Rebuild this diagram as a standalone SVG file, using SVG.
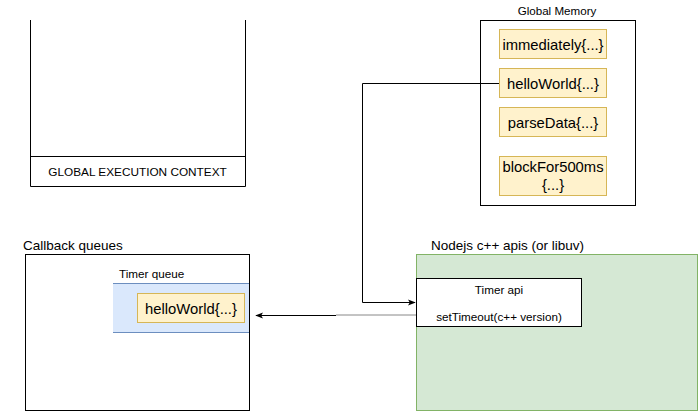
<svg xmlns="http://www.w3.org/2000/svg" width="700" height="411" viewBox="0 0 700 411">
<style>
text{font-family:"Liberation Sans",Arial,sans-serif;fill:#000}
.mem{fill:#fff2cc;stroke:#d6b656;stroke-width:1}
.mt{font-size:14.8px;text-anchor:middle}
.edge{fill:none;stroke:#000;stroke-width:1}
</style>
<defs>
<marker id="arr" viewBox="0 0 10 10" refX="9" refY="5" markerWidth="8" markerHeight="8" orient="auto" markerUnits="userSpaceOnUse">
<path d="M0,1 L10,5 L0,9 L2.5,5 Z" fill="#000"/>
</marker>
</defs>
<rect width="700" height="411" fill="#fff"/>
<g id="gec">
<path d="M30.5,20 V186.5 H245.5 V20 M30.5,156.5 H245.5" fill="none" stroke="#000"/>
<text x="137.5" y="175.5" font-size="11.8" text-anchor="middle">GLOBAL EXECUTION CONTEXT</text>
</g>
<g id="global-memory">
<text x="557" y="15" font-size="11.6" text-anchor="middle">Global Memory</text>
<rect x="480.5" y="20.5" width="155" height="185" fill="#fff" stroke="#000"/>
</g>
<g id="mem-immediately"><rect class="mem" x="499.5" y="29.5" width="107" height="29"/><text class="mt" x="553" y="49.5">immediately{...}</text></g>
<g id="mem-helloWorld"><rect class="mem" x="499.5" y="68.5" width="107" height="29"/><text class="mt" x="553" y="88.5">helloWorld{...}</text></g>
<g id="mem-parseData"><rect class="mem" x="499.5" y="107.5" width="107" height="29"/><text class="mt" x="553" y="127.5">parseData{...}</text></g>
<g id="mem-blockFor500ms"><rect class="mem" x="499.5" y="156.5" width="107" height="39"/><text class="mt" x="553" y="172">blockFor500ms</text><text class="mt" x="553" y="190">{...}</text></g>
<g id="callback-queues">
<text x="23" y="250" font-size="13.5">Callback queues</text>
<rect x="25.5" y="254.5" width="224" height="156" fill="#fff" stroke="#000"/>
</g>
<g id="timer-queue">
<text x="119" y="278" font-size="11.7">Timer queue</text>
<rect x="113" y="283" width="136" height="49" fill="#dae8fc"/>
<path d="M113,283.5 H249 M113,332.5 H249" stroke="#6c8ebf"/>
</g>
<g id="queue-helloWorld"><rect class="mem" x="137.5" y="293.5" width="107" height="29"/><text class="mt" x="191" y="313.5">helloWorld{...}</text></g>
<g id="nodejs-apis">
<text x="431" y="250" font-size="13.5">Nodejs c++ apis (or libuv)</text>
<rect x="416.5" y="254.5" width="281" height="156" fill="#d5e8d4" stroke="#82b366"/>
</g>
<g id="timer-api">
<rect x="416.5" y="278.5" width="165" height="48" fill="#fff" stroke="#000"/>
<text x="499" y="294" font-size="11.7" text-anchor="middle">Timer api</text>
<text x="499" y="321" font-size="11.7" text-anchor="middle">setTimeout(c++ version)</text>
</g>
<g id="connectors">
<path class="edge" d="M499,83.5 H362.5 V302.5 H415" marker-end="url(#arr)"/>
<path d="M416,315 H336" stroke="#888" fill="none"/>
<path class="edge" d="M336,315.5 H256" marker-end="url(#arr)"/>
</g>
</svg>
